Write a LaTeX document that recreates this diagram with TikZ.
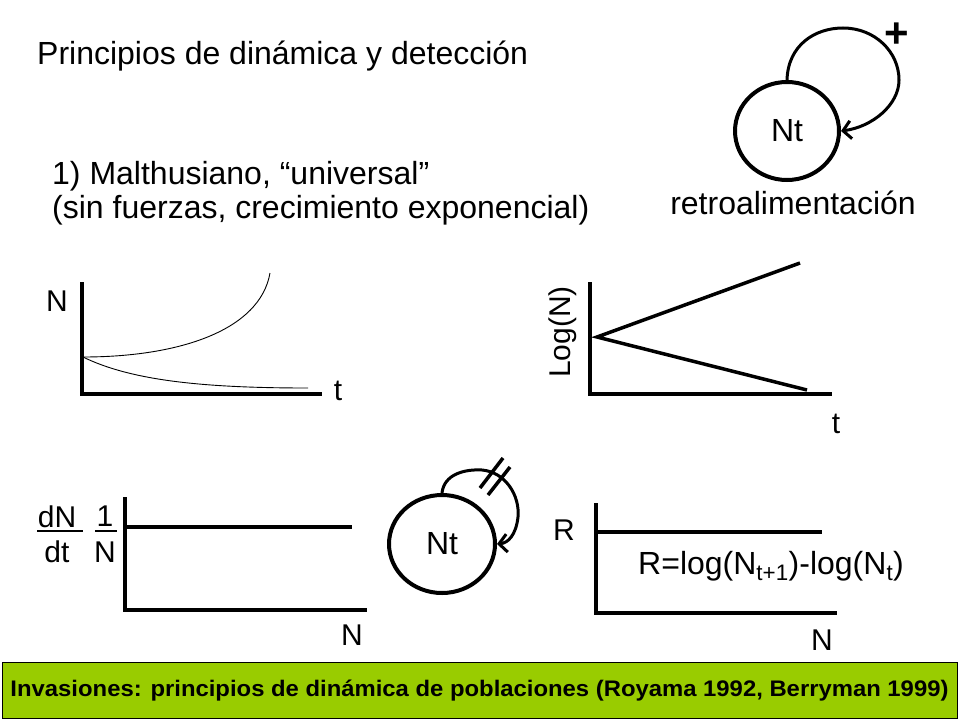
\documentclass[tikz,border=0pt]{standalone}
\usepackage{fontspec}
\setmainfont{Liberation Sans}
\usetikzlibrary{arrows.meta,shapes.geometric}
\definecolor{barGreen}{HTML}{99CC00}
\begin{document}
\begin{tikzpicture}[x=1pt,y=-1pt,
  axis/.style={line width=4.5pt},
  lbl/.style={inner sep=0pt, font=\fontsize{30}{36}\selectfont},
  bigtxt/.style={inner sep=0pt, anchor=base west, font=\fontsize{32}{38}\selectfont},
  popnode/.style={ellipse, draw, line width=4pt, inner sep=0pt, font=\fontsize{32}{38}\selectfont},
  fbloop/.style={line width=3pt, -{Straight Barb[length=8pt,width=18pt,line width=3pt]}},
  thin/.style={line width=0.9pt}
  ]
\useasboundingbox (0,0) rectangle (960,720);

% titles
\node[bigtxt] (title) at (37,64) {Principios de dinámica y detección};
\node[bigtxt] (l1) at (52,184) {1) Malthusiano, “universal”};
\node[bigtxt] (l2) at (52,218) {(sin fuerzas, crecimiento exponencial)};

% top-right feedback
\node[popnode, minimum width=104pt, minimum height=98pt] (nt1) at (787,131) {Nt};
\draw[fbloop] (nt1.north) .. controls (788,45) and (815,28) .. (843,28)
   .. controls (875,28) and (899,52) .. (899,80)
   .. controls (899,105) and (872,127) .. (nt1.east);
\node[inner sep=0pt, font=\bfseries\fontsize{42}{48}\selectfont] (plus) at (897,35) {+};
\node[inner sep=0pt, font=\fontsize{32}{38}\selectfont] (retro) at (793,203) {retroalimentación};

% graph 1
\draw[axis] (82,282) |- (322,394);
\node[lbl] (g1N) at (57,301) {N};
\node[lbl] (g1t) at (338,391) {t};
\coordinate (g1o) at (83,357);
\coordinate (g1up) at (270,273);
\coordinate (g1dn) at (308,388);
\draw[thin] (g1o) .. controls (180,357) and (260,330) .. (g1up);
\draw[thin] (g1o) .. controls (130,380) and (200,388) .. (g1dn);

% graph 2
\draw[axis] (590,282) |- (832,394);
\draw[line width=3.5pt] (800,263) -- (597,337) -- (807,390);
\node[lbl, rotate=90] (g2L) at (563,332) {Log(N)};
\node[lbl] (g2t) at (836,424) {t};

% graph 3
\draw[axis] (125,497) |- (367,610);
\draw[axis] (125,527) -- (352,527);
\node[lbl] (dN) at (57,517) {dN};
\node[lbl] (dt) at (57,552) {dt};
\draw[line width=2pt] (37,531) -- (83,531);
\node[lbl] (one) at (105,516) {1};
\node[lbl] (oneN) at (105,552) {N};
\draw[line width=2pt] (95,531) -- (117,531);
\node[lbl] (g3N) at (352,635) {N};

% middle feedback
\node[popnode, minimum width=106pt, minimum height=98pt] (nt2) at (442,544) {Nt};
\draw[fbloop] (nt2.north) .. controls (444,474) and (465,469) .. (482,470)
   .. controls (505,472) and (520,495) .. (518,517)
   .. controls (516,535) and (508,543) .. (nt2.east);
\draw[line width=3.5pt] (480,488) -- (503,458);
\draw[line width=3.5pt] (488,495) -- (510,467);

% graph 4
\draw[axis] (596,503) |- (837,613);
\draw[axis] (596,532) -- (822,532);
\node[lbl] (g4R) at (564,530) {R};
\node[lbl] (g4N) at (822,640) {N};
\node[inner sep=0pt, anchor=west, font=\fontsize{32}{38}\selectfont] (eq) at (638,566) {R=log(N\textsubscript{t+1})-log(N\textsubscript{t})};

% bottom bar
\node[draw=black, line width=1pt, fill=barGreen, minimum width=955pt, minimum height=56pt, inner sep=0pt,
      font=\bfseries\fontsize{22.5}{26}\selectfont] (bar) at (479.5,690.5)
      {\scalebox{1.06}[1]{Invasiones: principios de dinámica de poblaciones (Royama 1992, Berryman 1999)}};
\end{tikzpicture}
\end{document}
